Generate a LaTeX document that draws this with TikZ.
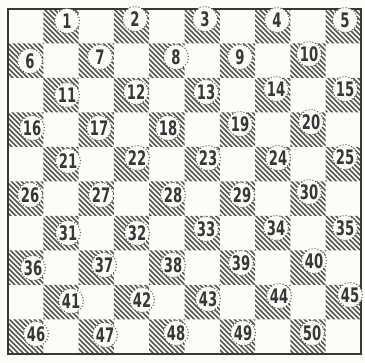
\documentclass[tikz,border=0pt]{standalone}
\usepackage{fontspec}
\setmainfont{DejaVu Sans}
\definecolor{hatch}{RGB}{85,85,85}
\definecolor{ink}{RGB}{55,55,55}
\definecolor{paper}{RGB}{252,252,249}
\begin{document}
\begin{tikzpicture}[x=1pt,y=-1pt,
  numc/.style={circle,fill=paper,draw=hatch,dotted,line width=1pt,minimum size=25pt,inner sep=0pt,
     text=ink,font=\fontsize{20}{20}\selectfont\bfseries},
  hatchline/.style={draw=hatch,line width=1.6pt},
  frame/.style={draw=ink,line width=2.2pt}]
\fill[paper] (0,0) rectangle (365,363);
\useasboundingbox (0,0) rectangle (365,363);
\def\L{8}\def\T{9}\def\cw{35.3}\def\ch{34.5}
\begin{scope}
  \clip \foreach \r in {0,...,9} {\foreach \k in {0,...,4} {
     ({\L+(2*\k+1-mod(\r,2))*\cw},{\T+\r*\ch}) rectangle +(\cw,\ch)}};
  \foreach \s in {-370,-365,...,370} \draw[hatchline] (\s,0) -- ({\s+370},370);
\end{scope}
\draw[frame] (\L,\T) rectangle (361,354);
\newcommand{\dnum}[2]{\scalebox{0.66}[1]{#1}}
\foreach \n/\x/\y in {
 1/67/21, 2/135/19, 3/205/19, 4/277/20, 5/345/20,
 6/30/61, 7/100/57, 8/176/57, 9/240/57, 10/309/54,
 11/67/95, 12/136/92, 13/206/92, 14/276/89, 15/345/89,
 16/32/128, 17/99/128, 18/168/128, 19/240/124, 20/311/122,
 21/68/161, 22/137/158, 23/208/158, 24/278/158, 25/345/157,
 26/30/195, 27/101/195, 28/173/195, 29/242/195, 30/309/192,
 31/68/233, 32/137/233, 33/206/229, 34/276/228, 35/345/228,
 36/33/268, 37/104/265, 38/173/265, 39/241/263, 40/314/261,
 41/71/301, 42/142/300, 43/208/299, 44/279/296, 45/350/295,
 46/36/334, 47/105/335, 48/176/333, 49/243/333, 50/312/333}
 \node[numc] (n\n) at (\x,\y) {\dnum{\n}{}};
\end{tikzpicture}
\end{document}
